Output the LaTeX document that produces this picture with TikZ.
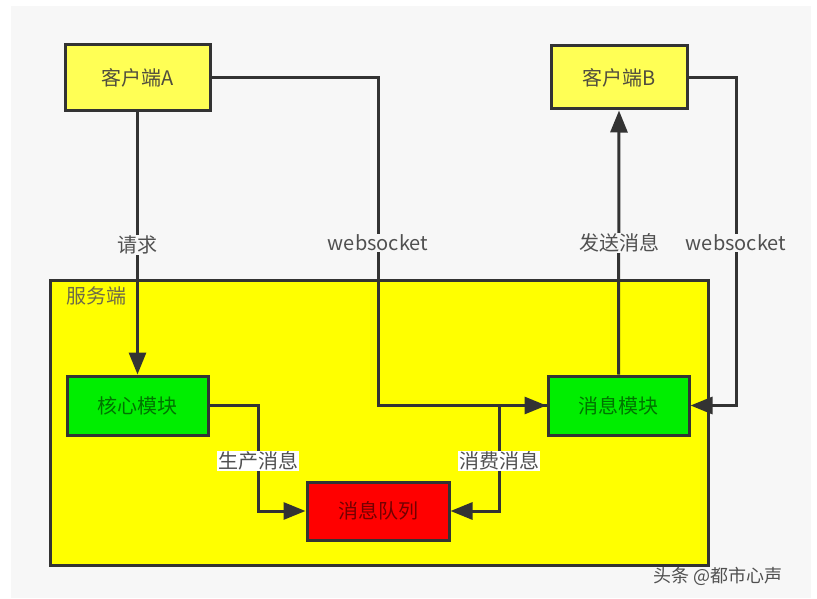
\documentclass[tikz,border=0pt]{standalone}
\usepackage{fontspec}
\setmainfont{Noto Sans CJK SC}
\usetikzlibrary{arrows.meta,positioning}
\definecolor{pagebg}{HTML}{F7F7F7}
\definecolor{edgec}{HTML}{333333}
\definecolor{clientfill}{HTML}{FFFF55}
\definecolor{serverfill}{HTML}{FFFF00}
\definecolor{modfill}{HTML}{00EE00}
\definecolor{queuefill}{HTML}{FF0000}
\definecolor{labc}{HTML}{505050}
\tikzset{
  box/.style={draw=edgec, line width=3pt, inner sep=0pt, font=\fontsize{20}{23}\selectfont},
  client/.style={box, fill=clientfill, text=black!65!yellow!60!black},
  module/.style={box, fill=modfill, text=green!45!black},
  queue/.style={box, fill=queuefill, text=red!45!black},
  conn/.style={draw=edgec, line width=3pt},
  arr/.style={conn, -{Triangle[length=22pt,width=17pt]}},
  lab/.style={fill=pagebg, text=labc, inner sep=1pt, font=\fontsize{20}{23}\selectfont},
  wlab/.style={fill=white, text=labc, inner sep=1pt, font=\fontsize{20}{23}\selectfont},
}
\begin{document}
\begin{tikzpicture}[x=1pt,y=-1pt]
\useasboundingbox (0,0) rectangle (817,599);
\fill[white] (0,0) rectangle (817,599);
\fill[pagebg] (11,6) rectangle (811,598);
% server area
\node[box, fill=serverfill, minimum width=658pt, minimum height=285pt, anchor=north west] (server) at (49,279) {};
\node[anchor=center, text=yellow!35!black, font=\fontsize{20}{23}\selectfont] (serverlab) at (96,296) {服务端};
% nodes
\node[client, minimum width=145pt, minimum height=66pt] (A) at (137.5,77.5) {客户端A};
\node[client, minimum width=136pt, minimum height=63pt] (B) at (619,77.5) {客户端B};
\node[module, minimum width=141pt, minimum height=59pt] (core) at (137.5,405.5) {核心模块};
\node[module, minimum width=141pt, minimum height=59pt] (msg) at (618.5,405.5) {消息模块};
\node[queue, minimum width=142pt, minimum height=58pt] (q) at (378,511) {消息队列};
% bend points
\coordinate (a1) at (378,77.5);
\coordinate (a2) at (378,405.5);
\coordinate (b1) at (736,77.5);
\coordinate (b2) at (736,405.5);
\coordinate (c1) at (258,405.5);
\coordinate (c2) at (258,511);
\coordinate (m1) at (499,405.5);
\coordinate (m2) at (499,511);
% connectors
\draw[arr] (A.south) -- (core.north);
\draw[arr] (A.east) -- (a1) -- (a2) -- (msg.west);
\draw[arr] (msg.north) -- (B.south);
\draw[arr] (B.east) -- (b1) -- (b2) -- (msg.east);
\draw[arr] (core.east) -- (c1) -- (c2) -- (q.west);
\draw[arr] (msg.west) -- (m1) -- (m2) -- (q.east);
% labels
\node[lab] (l1) at (137.5,245) {请求};
\node[lab] (l2) at (378,243) {websocket};
\node[lab] (l3) at (619,243) {发送消息};
\node[lab] (l4) at (736,243) {websocket};
\node[wlab] (l5) at (258,461) {生产消息};
\node[wlab] (l6) at (499,461) {消费消息};
% watermark
\node[text=labc, font=\fontsize{18}{20}\selectfont] (wm) at (718,576) {头条 @都市心声};
\end{tikzpicture}
\end{document}
